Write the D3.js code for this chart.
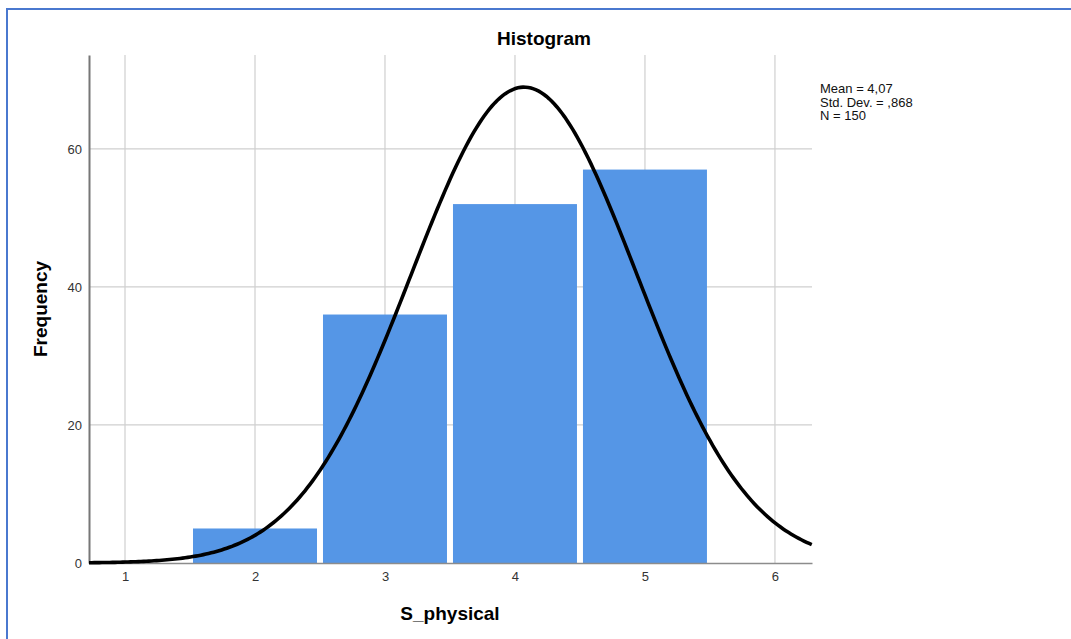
<!DOCTYPE html>
<html>
<head>
<meta charset="utf-8">
<script src="https://cdn.jsdelivr.net/npm/d3@7"></script>
<style>
  body { margin: 0; background: #fff; }
  text { font-family: "Liberation Sans", Arial, sans-serif; }
</style>
</head>
<body>
<div class="hist"></div>
<script>
// values
const binCenters = [2, 3, 4, 5];
const counts = [5, 36, 52, 57];
const xTicks = [1, 2, 3, 4, 5, 6];
const yTicks = [0, 20, 40, 60];
const statLines = ["Mean = 4,07", "Std. Dev. = ,868", "N = 150"];
const mean = 4.07, sd = 0.868, n = 150;

const W = 1071, H = 639;
const margin = { left: 89, top: 55, right: 259, bottom: 76 };

const svg = d3.select(".hist").append("svg")
  .attr("width", W)
  .attr("height", H);

// frame border
svg.append("rect")
  .attr("x", 7).attr("y", 9)
  .attr("width", W + 10).attr("height", H + 10)
  .attr("fill", "none")
  .attr("stroke", "#4a78cf")
  .attr("stroke-width", 2);

const x = d3.scaleLinear().domain([0.723, 6.285]).range([margin.left, W - margin.right]);
const y = d3.scaleLinear().domain([0, 73.6]).range([H - margin.bottom, margin.top]);

// grid
svg.append("g").selectAll("line")
  .data(xTicks).enter().append("line")
  .attr("x1", d => x(d)).attr("x2", d => x(d))
  .attr("y1", y.range()[1]).attr("y2", y(0))
  .attr("stroke", "#cfcfcf").attr("stroke-width", 1.2);

svg.append("g").selectAll("line")
  .data(yTicks.filter(d => d > 0)).enter().append("line")
  .attr("x1", x.range()[0]).attr("x2", x.range()[1])
  .attr("y1", d => y(d)).attr("y2", d => y(d))
  .attr("stroke", "#cfcfcf").attr("stroke-width", 1.2);

// bars
svg.append("g").selectAll("rect")
  .data(binCenters).enter().append("rect")
  .attr("x", d => x(d - 0.5) + 3)
  .attr("width", d => x(d + 0.5) - x(d - 0.5) - 6)
  .attr("y", (d, i) => y(counts[i]))
  .attr("height", (d, i) => y(0) - y(counts[i]))
  .attr("fill", "#5596e6");

// axes
const xAxis = svg.append("g")
  .attr("transform", `translate(0,${y(0)})`)
  .attr("font-size", 13)
  .call(d3.axisBottom(x).tickValues(xTicks).tickFormat(d3.format("d")).tickSize(0).tickPadding(9));
xAxis.attr("font-size", 13).attr("font-family", "Liberation Sans, Arial, sans-serif");
xAxis.select(".domain").attr("stroke", "#8c8c8c").attr("stroke-width", 1.5);
xAxis.selectAll("text").attr("fill", "#333");

const yAxis = svg.append("g")
  .attr("transform", `translate(${x.range()[0]},0)`)
  .call(d3.axisLeft(y).tickValues(yTicks).tickFormat(d3.format("d")).tickSize(0).tickPadding(7));
yAxis.attr("font-size", 13).attr("font-family", "Liberation Sans, Arial, sans-serif");
yAxis.select(".domain").attr("stroke", "#777").attr("stroke-width", 2);
yAxis.selectAll("text").attr("fill", "#333");

// normal curve from mean, sd and n (bin width 1)
const curvePts = d3.range(x.domain()[0], x.domain()[1] + 0.001, 0.02).map(v =>
  [v, n / (sd * Math.sqrt(2 * Math.PI)) * Math.exp(-0.5 * Math.pow((v - mean) / sd, 2))]);

svg.append("path")
  .datum(curvePts)
  .attr("fill", "none")
  .attr("stroke", "#000")
  .attr("stroke-width", 3.6)
  .attr("d", d3.line().x(d => x(d[0])).y(d => y(d[1])));

// titles
svg.append("text")
  .attr("x", 544).attr("y", 45)
  .attr("text-anchor", "middle")
  .attr("font-size", "19px").attr("font-weight", "bold")
  .text("Histogram");

svg.append("text")
  .attr("x", 450).attr("y", 620)
  .attr("text-anchor", "middle")
  .attr("font-size", "19px").attr("font-weight", "bold")
  .text("S_physical");

svg.append("text")
  .attr("transform", "translate(47,309) rotate(-90)")
  .attr("text-anchor", "middle")
  .attr("font-size", "19px").attr("font-weight", "bold")
  .text("Frequency");

// stats box
svg.append("g").selectAll("text")
  .data(statLines).enter().append("text")
  .attr("x", 820)
  .attr("y", (d, i) => 93 + i * 13.5)
  .attr("font-size", "13px")
  .attr("fill", "#111")
  .text(d => d);
</script>
</body>
</html>
